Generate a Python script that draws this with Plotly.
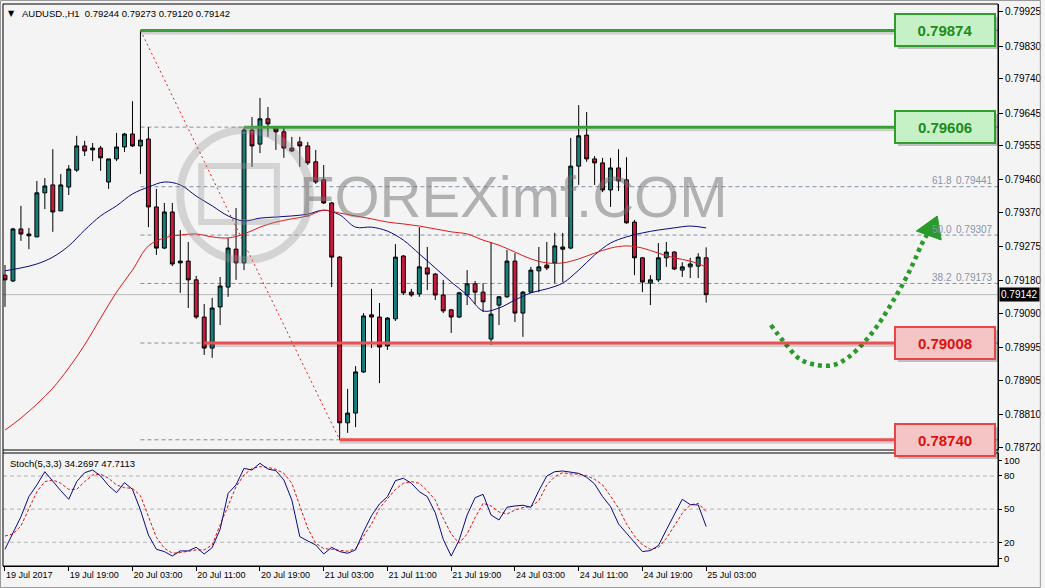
import plotly.graph_objects as go

# ---------------- data ----------------
title_text = "AUDUSD.,H1  0.79244 0.79273 0.79120 0.79142"
stoch_text = "Stoch(5,3,3) 34.2697 47.7113"

opens = [0.79196, 0.79180, 0.79324, 0.79310, 0.79302, 0.79424, 0.79446, 0.79374, 0.79440, 0.79487,
         0.79554, 0.79543, 0.79548, 0.79454, 0.79518, 0.79551, 0.79587, 0.79554, 0.79573, 0.79385,
         0.79271, 0.79371, 0.79230, 0.79235, 0.79183, 0.79080, 0.78994, 0.79108, 0.79163, 0.79268,
         0.79230, 0.79598, 0.79559, 0.79629, 0.79606, 0.79593, 0.79548, 0.79565, 0.79554, 0.79510,
         0.79460, 0.79396, 0.79246, 0.78787, 0.78814, 0.78928, 0.79086, 0.79080, 0.79000, 0.79075,
         0.79249, 0.79149, 0.79144, 0.79216, 0.79199, 0.79141, 0.79100, 0.79080, 0.79141, 0.79172,
         0.79149, 0.79019, 0.79113, 0.79136, 0.79235, 0.79091, 0.79149, 0.79208, 0.79224, 0.79230,
         0.79274, 0.79271, 0.79498, 0.79584, 0.79518, 0.79507, 0.79432, 0.79493, 0.79460, 0.79343,
         0.79244, 0.79174, 0.79183, 0.79244, 0.79260, 0.79210, 0.79219, 0.79221, 0.79244]
highs = [0.79224, 0.79327, 0.79388, 0.79327, 0.79457, 0.79465, 0.79545, 0.79476, 0.79501, 0.79582,
         0.79568, 0.79562, 0.79554, 0.79518, 0.79590, 0.79590, 0.79678, 0.79874, 0.79606, 0.79435,
         0.79396, 0.79396, 0.79321, 0.79288, 0.79194, 0.79116, 0.79133, 0.79191, 0.79299, 0.79382,
         0.79606, 0.79634, 0.79687, 0.79662, 0.79608, 0.79606, 0.79579, 0.79579, 0.79565, 0.79543,
         0.79501, 0.79399, 0.79249, 0.78881, 0.78944, 0.79091, 0.79158, 0.79119, 0.79080, 0.79282,
         0.79252, 0.79158, 0.79329, 0.79274, 0.79202, 0.79183, 0.79102, 0.79150, 0.79210, 0.79180,
         0.79174, 0.79288, 0.79138, 0.79266, 0.79257, 0.79152, 0.79219, 0.79274, 0.79288, 0.79313,
         0.79313, 0.79576, 0.79667, 0.79648, 0.79526, 0.79521, 0.79521, 0.79545, 0.79523, 0.79349,
         0.79246, 0.79196, 0.79285, 0.79288, 0.79262, 0.79232, 0.79244, 0.79257, 0.79273]
lows = [0.79108, 0.79177, 0.79291, 0.79268, 0.79302, 0.79379, 0.79316, 0.79374, 0.79418, 0.79482,
        0.79526, 0.79512, 0.79485, 0.79435, 0.79512, 0.79537, 0.79551, 0.79476, 0.79329, 0.79252,
        0.79268, 0.79221, 0.79147, 0.79105, 0.79075, 0.78975, 0.78967, 0.79058, 0.79136, 0.79183,
        0.79210, 0.79496, 0.79534, 0.79579, 0.79543, 0.79521, 0.79537, 0.79496, 0.79501, 0.79449,
        0.79393, 0.79163, 0.78740, 0.78759, 0.78775, 0.78925, 0.78994, 0.78897, 0.78989, 0.79069,
        0.79141, 0.79136, 0.79136, 0.79155, 0.79127, 0.79091, 0.79036, 0.79077, 0.79113, 0.79116,
        0.79094, 0.79003, 0.79058, 0.79133, 0.79066, 0.79025, 0.79147, 0.79149, 0.79210, 0.79174,
        0.79177, 0.79268, 0.79446, 0.79510, 0.79446, 0.79426, 0.79385, 0.79429, 0.79338, 0.79196,
        0.79149, 0.79113, 0.79177, 0.79219, 0.79210, 0.79191, 0.79188, 0.79188, 0.79120]
closes = [0.79183, 0.79324, 0.79310, 0.79305, 0.79424, 0.79443, 0.79371, 0.79446, 0.79490, 0.79554,
          0.79540, 0.79548, 0.79521, 0.79518, 0.79551, 0.79587, 0.79554, 0.79570, 0.79385, 0.79271,
          0.79371, 0.79227, 0.79235, 0.79183, 0.79080, 0.78994, 0.79105, 0.79166, 0.79271, 0.79230,
          0.79598, 0.79554, 0.79629, 0.79615, 0.79593, 0.79548, 0.79540, 0.79554, 0.79507, 0.79454,
          0.79396, 0.79246, 0.78787, 0.78814, 0.78928, 0.79083, 0.79080, 0.78997, 0.79077, 0.79246,
          0.79147, 0.79141, 0.79219, 0.79199, 0.79141, 0.79097, 0.79080, 0.79147, 0.79172, 0.79149,
          0.79122, 0.79088, 0.79136, 0.79235, 0.79091, 0.79149, 0.79210, 0.79219, 0.79216, 0.79277,
          0.79268, 0.79498, 0.79582, 0.79518, 0.79507, 0.79432, 0.79493, 0.79457, 0.79341, 0.79244,
          0.79177, 0.79183, 0.79244, 0.79260, 0.79213, 0.79219, 0.79227, 0.79246, 0.79142]

ma_bars = list(range(0, 89, 2))
ma_blue = [0.79208, 0.79216, 0.79227, 0.79246, 0.79277, 0.79321, 0.79360, 0.79388, 0.79421, 0.79440,
           0.79454, 0.79446, 0.79415, 0.79388, 0.79360, 0.79346, 0.79354, 0.79357, 0.79360, 0.79365,
           0.79376, 0.79363, 0.79329, 0.79329, 0.79318, 0.79293, 0.79255, 0.79216, 0.79177, 0.79141,
           0.79097, 0.79105, 0.79127, 0.79147, 0.79158, 0.79174, 0.79210, 0.79252, 0.79285, 0.79302,
           0.79313, 0.79321, 0.79327, 0.79332, 0.79327]
ma_red = [0.78767, 0.78800, 0.78839, 0.78883, 0.78939, 0.79003, 0.79077, 0.79149, 0.79210, 0.79277,
          0.79299, 0.79307, 0.79310, 0.79302, 0.79299, 0.79310, 0.79329, 0.79343, 0.79352, 0.79360,
          0.79376, 0.79368, 0.79360, 0.79352, 0.79343, 0.79338, 0.79332, 0.79324, 0.79316, 0.79310,
          0.79293, 0.79279, 0.79260, 0.79241, 0.79230, 0.79230, 0.79241, 0.79257, 0.79271, 0.79277,
          0.79271, 0.79257, 0.79244, 0.79235, 0.79219]

stoch_k = [13.7, 28.1, 43.2, 61.3, 71.9, 83.9, 74.9, 66.7, 58.9, 74.9,
           83.0, 85.4, 80.0, 71.3, 64.9, 74.0, 67.9, 49.2, 26.6, 13.7,
           11.6, 7.6, 12.2, 12.2, 15.5, 9.4, 15.2, 31.8, 64.3, 71.9,
           86.9, 85.4, 91.5, 86.3, 84.8, 76.4, 58.3, 25.1, 21.2, 17.6,
           9.4, 15.5, 11.6, 10.1, 13.1, 29.6, 44.1, 54.7, 61.3, 75.8,
           77.9, 73.4, 65.8, 61.3, 46.8, 22.7, 7.6, 22.1, 44.7, 60.4,
           63.4, 44.7, 40.2, 51.7, 52.9, 53.5, 51.7, 66.7, 80.0, 83.9,
           84.5, 83.6, 82.4, 78.8, 72.8, 61.3, 52.3, 36.6, 28.1, 19.1,
           11.6, 12.5, 17.0, 31.2, 44.7, 58.9, 54.1, 53.8, 34.27]
stoch_d = [25.7, 27.5, 34.8, 50.8, 65.8, 74.9, 76.4, 73.4, 67.9, 67.9,
           74.9, 80.9, 81.8, 77.9, 71.9, 69.4, 68.8, 62.2, 43.2, 24.5,
           14.6, 10.1, 10.7, 11.6, 13.1, 13.1, 17.6, 35.7, 53.8, 70.4,
           80.9, 86.9, 88.4, 87.8, 86.0, 82.4, 73.4, 52.3, 32.7, 19.1,
           14.3, 13.7, 13.1, 11.9, 14.3, 25.1, 36.6, 50.8, 59.8, 67.9,
           73.4, 74.9, 73.4, 66.7, 58.3, 41.7, 27.5, 19.1, 27.5, 42.3,
           55.3, 52.9, 47.4, 45.6, 49.2, 51.4, 52.3, 57.7, 71.9, 79.4,
           83.0, 81.8, 81.8, 80.3, 77.0, 71.9, 61.9, 50.8, 36.6, 25.7,
           17.6, 13.7, 15.2, 23.6, 34.8, 46.2, 53.8, 55.3, 47.71]

price_ticks = [0.79925, 0.79830, 0.79740, 0.79645, 0.79555, 0.79460, 0.79370,
               0.79275, 0.79180, 0.79090, 0.78995, 0.78905, 0.78810, 0.78720]
time_labels = ["19 Jul 2017", "19 Jul 19:00", "20 Jul 03:00", "20 Jul 11:00", "20 Jul 19:00",
               "21 Jul 03:00", "21 Jul 11:00", "21 Jul 19:00", "24 Jul 03:00", "24 Jul 11:00",
               "24 Jul 19:00", "25 Jul 03:00"]
time_label_bars = [0, 8, 16, 24, 32, 40, 48, 56, 64, 72, 80, 88]
stoch_levels = [80, 50, 20]
stoch_tick_labels = ["100", "80", "50", "20", "0"]

resist_levels = [0.79874, 0.79606]
resist_start_bars = [17, 30]
support_levels = [0.79008, 0.78740]
support_start_bars = [25, 42]
fib_ratios = ["61.8", "50.0", "38.2"]
fib_label_prices = [0.79441, 0.79307, 0.79173]
fib_line_prices = [0.79874, 0.79606, 0.79441, 0.79307, 0.79173, 0.79008, 0.78740]
fib_start_bar, fib_end_bar = 17, 42
last_price = 0.79142

# ---------------- geometry ----------------
PL, PR, PT, PB = 3, 1002, 4, 566
MAIN_BOTTOM, SUB_TOP = 450, 453
XR = [-0.25, 124.625]
YR = [0.787117, 0.799471]
SR = [-1.45, 100.8]
stoch_tick_pos = [93.8, 80, 50, 20, 5.5]


def fx(px):
    return (px - PL) / (PR - PL)


def fy(py):
    return (PB - py) / (PB - PT)


def bx(px):
    return XR[0] + (px - PL) / (PR - PL) * (XR[1] - XR[0])


def pp(py):
    return YR[1] - (py - PT) / (MAIN_BOTTOM - PT) * (YR[1] - YR[0])


PX_PRICE = (YR[1] - YR[0]) / (MAIN_BOTTOM - PT)
bars = list(range(len(opens)))

TEAL = "#157f7c"
CRIMSON = "#c81a3d"
FONT = "Liberation Sans"

fig = go.Figure()

fig.add_trace(go.Candlestick(
    x=bars, open=opens, high=highs, low=lows, close=closes,
    increasing=dict(fillcolor=TEAL, line=dict(color="black", width=1)),
    decreasing=dict(fillcolor=CRIMSON, line=dict(color="black", width=1)),
    whiskerwidth=0, xaxis="x", yaxis="y", hoverinfo="skip"))

fig.add_trace(go.Scatter(x=ma_bars, y=ma_blue, mode="lines", line=dict(color="#0a0a80", width=1, shape="spline"),
                         xaxis="x", yaxis="y", hoverinfo="skip"))
fig.add_trace(go.Scatter(x=ma_bars, y=ma_red, mode="lines", line=dict(color="#dd1a1a", width=1, shape="spline"),
                         xaxis="x", yaxis="y", hoverinfo="skip"))

fig.add_trace(go.Scatter(x=bars, y=stoch_d, mode="lines", line=dict(color="#e01010", width=1, dash="3px,2px"),
                         xaxis="x2", yaxis="y2", hoverinfo="skip"))
fig.add_trace(go.Scatter(x=bars, y=stoch_k, mode="lines", line=dict(color="#0a0a80", width=1),
                         xaxis="x2", yaxis="y2", hoverinfo="skip"))

# forecast arrow (hand drawing)
arrow_px = [(774, 325), (788, 343), (803, 359), (820, 365), (837, 365), (852, 357), (867, 343),
            (880, 327), (893, 307), (907, 283), (917, 263), (925, 245), (931, 234)]
fig.add_trace(go.Scatter(x=[bx(a) for a, b in arrow_px], y=[pp(b) for a, b in arrow_px], mode="lines",
                         line=dict(color="#2a9a2a", width=4.5, dash="4px,4px", shape="spline"),
                         xaxis="x", yaxis="y", hoverinfo="skip"))

shapes = []
for p in fib_line_prices:
    shapes.append(dict(type="line", xref="x", yref="y", x0=fib_start_bar, x1=XR[1], y0=p, y1=p,
                       line=dict(color="#8190a3", width=1, dash="4px,3px"), layer="below"))
shapes.append(dict(type="line", xref="x", yref="y", x0=XR[0], x1=XR[1], y0=last_price, y1=last_price,
                   line=dict(color="#b8b8b8", width=1), layer="below"))
shapes.append(dict(type="line", xref="x", yref="y", x0=fib_start_bar, x1=fib_end_bar,
                   y0=fib_line_prices[0], y1=fib_line_prices[-1],
                   line=dict(color="#e02020", width=1, dash="2px,3px")))
for lv in stoch_levels:
    shapes.append(dict(type="line", xref="paper", yref="y2", x0=0, x1=1, y0=lv, y1=lv,
                       line=dict(color="#b4b4b4", width=1, dash="4px,3px"), layer="below"))

box_left = bx(898)
for lv, sb in zip(resist_levels, resist_start_bars):
    shapes.append(dict(type="line", xref="x", yref="y", x0=sb, x1=box_left, y0=lv - 2.5 * PX_PRICE,
                       y1=lv - 2.5 * PX_PRICE, line=dict(color="rgba(0,0,0,0.15)", width=3)))
    shapes.append(dict(type="line", xref="x", yref="y", x0=sb, x1=box_left, y0=lv, y1=lv,
                       line=dict(color="#36a036", width=3)))
for lv, sb in zip(support_levels, support_start_bars):
    shapes.append(dict(type="line", xref="x", yref="y", x0=sb, x1=box_left, y0=lv - 2.5 * PX_PRICE,
                       y1=lv - 2.5 * PX_PRICE, line=dict(color="rgba(0,0,0,0.15)", width=3)))
    shapes.append(dict(type="line", xref="x", yref="y", x0=sb, x1=box_left, y0=lv, y1=lv,
                       line=dict(color="#ec5050", width=3)))

tri = [(941, 216), (920, 231), (945, 240)]
path = "M {} {} L {} {} L {} {} Z".format(*[v for a, b in tri for v in (fx(a), fy(b))])
shapes.append(dict(type="path", xref="paper", yref="paper", path=path,
                   fillcolor="#2a9a2a", line=dict(color="#2a9a2a", width=1)))

shapes.append(dict(type="circle", xref="paper", yref="paper", x0=fx(181), x1=fx(311), y0=fy(260), y1=fy(130),
                   line=dict(color="rgba(150,150,150,0.35)", width=8)))
shapes.append(dict(type="rect", xref="paper", yref="paper", x0=fx(202), x1=fx(278), y0=fy(222), y1=fy(166),
                   line=dict(color="rgba(150,150,150,0.35)", width=6)))

shapes.append(dict(type="rect", xref="paper", yref="paper", x0=0, x1=1, y0=0, y1=1,
                   line=dict(color="black", width=1)))
for yy in (MAIN_BOTTOM, SUB_TOP):
    shapes.append(dict(type="line", xref="paper", yref="paper", x0=0, x1=1, y0=fy(yy), y1=fy(yy),
                       line=dict(color="black", width=1)))
shapes.append(dict(type="rect", xref="paper", yref="paper", x0=fx(0.5), x1=fx(1044.5), y0=fy(587.5), y1=fy(0.5),
                   line=dict(color="#9a9a9a", width=1)))

annotations = []
annotations.append(dict(xref="paper", yref="paper", x=fx(12), y=fy(13), text="▼", showarrow=False,
                        font=dict(family="DejaVu Sans", size=8, color="black"), xanchor="center", yanchor="middle"))
annotations.append(dict(xref="paper", yref="paper", x=fx(20), y=fy(13), text=title_text, showarrow=False,
                        font=dict(family=FONT, size=9.5, color="black"), xanchor="left", yanchor="middle"))
annotations.append(dict(xref="paper", yref="paper", x=fx(8), y=fy(463), text=stoch_text, showarrow=False,
                        font=dict(family=FONT, size=9.5, color="black"), xanchor="left", yanchor="middle"))

for r, p in zip(fib_ratios, fib_label_prices):
    annotations.append(dict(xref="paper", yref="y", x=fx(958), y=p, yshift=6, text=r, showarrow=False,
                            font=dict(family=FONT, size=10, color="#8795a8"), xanchor="right", yanchor="middle"))
    annotations.append(dict(xref="paper", yref="y", x=fx(999), y=p, yshift=6, text=f"{p:.5f}", showarrow=False,
                            font=dict(family=FONT, size=10, color="#8795a8"), xanchor="right", yanchor="middle"))

annotations.append(dict(xref="paper", yref="paper", x=fx(298), y=fy(196), text="FOREXimf.COM", showarrow=False,
                        font=dict(family=FONT, size=58, color="rgba(110,110,110,0.5)"),
                        xanchor="left", yanchor="middle"))

box_cx = fx(949)
for lv, fill, border, tc in ([(v, "#c6f0c6", "#2f9e2f", "#1b8c1b") for v in resist_levels] +
                             [(v, "#f5c5c5", "#e64646", "#dd1010") for v in support_levels]):
    annotations.append(dict(xref="paper", yref="y", x=box_cx, y=lv, xshift=3, yshift=-3, text=" ",
                            xanchor="center", yanchor="middle",
                            showarrow=False, width=96, height=28, borderpad=1, borderwidth=2,
                            bordercolor="rgba(0,0,0,0)", bgcolor="rgba(0,0,0,0.22)"))
    annotations.append(dict(xref="paper", yref="y", x=box_cx, y=lv, text=f"<b>{lv:.5f}</b>",
                            xanchor="center", yanchor="middle",
                            showarrow=False, width=96, height=28, borderpad=1, borderwidth=2,
                            bordercolor=border, bgcolor=fill,
                            font=dict(family=FONT, size=15, color=tc)))

annotations.append(dict(xref="paper", yref="y", x=1, y=last_price, xshift=1, text=f"{last_price:.5f}",
                        showarrow=False, xanchor="left", yanchor="middle", bgcolor="black", borderpad=1,
                        font=dict(family=FONT, size=10, color="white")))

fig.update_layout(
    width=1045, height=588,
    margin=dict(l=PL, r=1045 - PR, t=PT, b=588 - PB),
    paper_bgcolor="#f4f4f4", plot_bgcolor="#f4f4f4",
    showlegend=False, hovermode=False,
    shapes=shapes, annotations=annotations,
    xaxis=dict(domain=[0, 1], range=XR, anchor="y", showticklabels=False, showgrid=False, zeroline=False,
               rangeslider=dict(visible=False), ticks=""),
    yaxis=dict(domain=[fy(MAIN_BOTTOM), 1], range=YR, side="right", anchor="x",
               tickvals=price_ticks, ticktext=[f"{v:.5f}" for v in price_ticks],
               ticks="outside", ticklen=4, tickcolor="black", showline=True, linecolor="black",
               showgrid=False, zeroline=False, tickfont=dict(family=FONT, size=10, color="black")),
    xaxis2=dict(domain=[0, 1], range=XR, anchor="y2", tickvals=time_label_bars, ticktext=time_labels,
                ticks="outside", ticklen=4, tickcolor="black", showline=True, linecolor="black",
                showgrid=False, zeroline=False, ticklabelposition="outside right",
                tickfont=dict(family=FONT, size=9, color="black")),
    yaxis2=dict(domain=[0, fy(SUB_TOP)], range=SR, side="right", anchor="x2",
                tickvals=stoch_tick_pos, ticktext=stoch_tick_labels, ticks="outside", ticklen=3,
                tickcolor="black", showline=True, linecolor="black", showgrid=False, zeroline=False,
                tickfont=dict(family=FONT, size=9.5, color="black")),
)

fig.write_html("out.html", config={"displayModeBar": False},
               post_script="document.body.style.margin='0';document.body.style.padding='0';"
                           "document.body.style.overflow='hidden';"
                           "document.documentElement.style.overflow='hidden';")
